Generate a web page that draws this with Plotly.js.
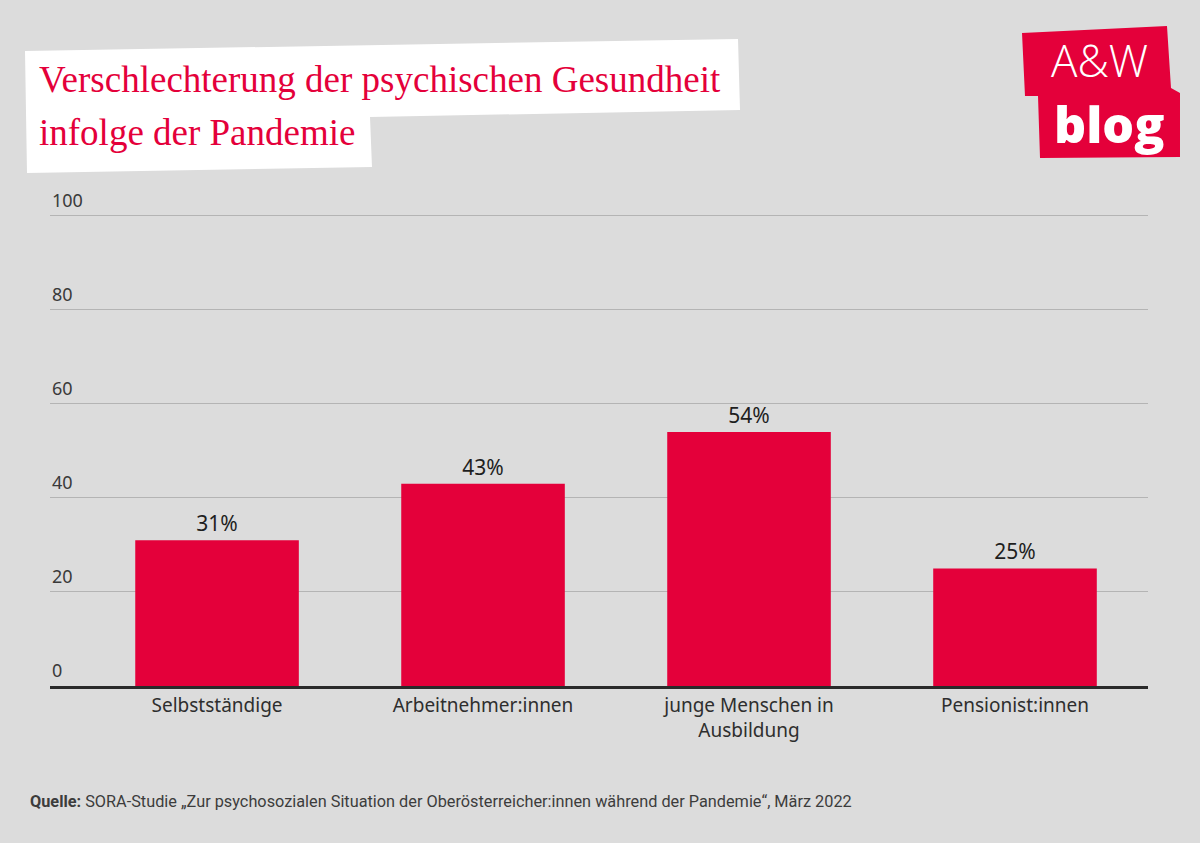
<!DOCTYPE html>
<html>
<head>
<meta charset="utf-8">
<script src="https://cdn.plot.ly/plotly-3.0.1.min.js"></script>
<style>html,body{margin:0;padding:0;background:#dcdcdc;}#chart{width:1200px;height:843px;}</style>
</head>
<body>
<div id="chart"></div>
<script>
// Data
const categories = ["Selbstständige", "Arbeitnehmer:innen", "junge Menschen in<br>Ausbildung", "Pensionist:innen"];
const values = [31, 43, 54, 25];
const yTickVals = [0, 20, 40, 60, 80, 100];
const yTickText = ["0", "20", "40", "60", "80", "100"];
const titleLine1 = "Verschlechterung der psychischen Gesundheit";
const titleLine2 = "infolge der Pandemie";
const sourceText = "<b>Quelle:</b> SORA-Studie „Zur psychosozialen Situation der Oberösterreicher:innen während der Pandemie“, März 2022";

const RED = "#e4003a";
const W = 1200, H = 843;
const M = {l: 50, r: 52, t: 211, b: 157};
const PW = W - M.l - M.r, PH = H - M.t - M.b;
const px = x => (x - M.l) / PW;
const py = y => (H - M.b - y) / PH;
function path(pts) {
  return pts.map((p, i) => (i ? "L" : "M") + px(p[0]).toFixed(5) + "," + py(p[1]).toFixed(5)).join(" ") + " Z";
}

const trace = {
  type: "bar",
  x: categories,
  y: values,
  width: 0.615,
  marker: {color: RED, line: {width: 0}},
  text: values.map(v => v + "%"),
  textposition: "outside",
  cliponaxis: false,
  textfont: {family: "Noto Sans", size: 21, color: "#1e1e1e"},
  hoverinfo: "skip"
};

const tickAnnotations = yTickVals.map((v, i) => ({
  xref: "paper", yref: "y", x: 0, y: v, xanchor: "left", yanchor: "bottom", yshift: 2,
  text: yTickText[i], showarrow: false,
  font: {family: "Noto Sans", size: 18, color: "#3a3a3a"}
}));

const layout = {
  width: W, height: H,
  margin: M,
  paper_bgcolor: "#dcdcdc",
  plot_bgcolor: "#dcdcdc",
  showlegend: false,
  bargap: 0.385,
  xaxis: {
    type: "category",
    range: [-0.628, 3.5],
    showgrid: false,
    showline: true,
    linecolor: "#2a2a2a",
    linewidth: 3,
    layer: "above traces",
    ticks: "",
    tickfont: {family: "Noto Sans", size: 19, color: "#2e2e2e"},
    fixedrange: true
  },
  yaxis: {
    range: [0, 101],
    tickvals: yTickVals,
    showticklabels: false,
    showgrid: true,
    gridcolor: "#b4b4b4",
    gridwidth: 1,
    zeroline: false,
    showline: false,
    ticks: "",
    fixedrange: true
  },
  shapes: [
    {type: "path", xref: "paper", yref: "paper", layer: "below",
     path: path([[25,51],[738,39],[740,110],[370,117],[372,167],[27,173]]),
     fillcolor: "#ffffff", line: {width: 0}},
    {type: "path", xref: "paper", yref: "paper", layer: "below",
     path: path([[1022,33],[1167,26],[1171,88],[1180,93],[1180,157],[1040,158],[1038,96],[1025,96]]),
     fillcolor: RED, line: {width: 0}}
  ],
  annotations: tickAnnotations.concat([
    {xref: "paper", yref: "paper", x: px(37), y: py(80), xanchor: "left", yanchor: "middle",
     text: titleLine1, showarrow: false,
     font: {family: "Liberation Serif", size: 37, color: RED}},
    {xref: "paper", yref: "paper", x: px(37), y: py(132), xanchor: "left", yanchor: "middle",
     text: titleLine2, showarrow: false,
     font: {family: "Liberation Serif", size: 37, color: RED}},
    {xref: "paper", yref: "paper", x: px(1099), y: py(60), xanchor: "center", yanchor: "middle",
     text: "A&W", showarrow: false,
     font: {family: "Open Sans", size: 44, color: "#ffffff", weight: 300}},
    {xref: "paper", yref: "paper", x: px(1109), y: py(124), xanchor: "center", yanchor: "middle",
     text: "blog", showarrow: false,
     font: {family: "Open Sans", size: 50, color: "#ffffff", weight: 800}},
    {xref: "paper", yref: "paper", x: px(28), y: py(801), xanchor: "left", yanchor: "middle",
     text: sourceText, showarrow: false,
     font: {family: "Roboto", size: 16.3, color: "#3c3c3c"}}
  ])
};

Plotly.newPlot("chart", [trace], layout, {displayModeBar: false, staticPlot: true});
</script>
</body>
</html>
